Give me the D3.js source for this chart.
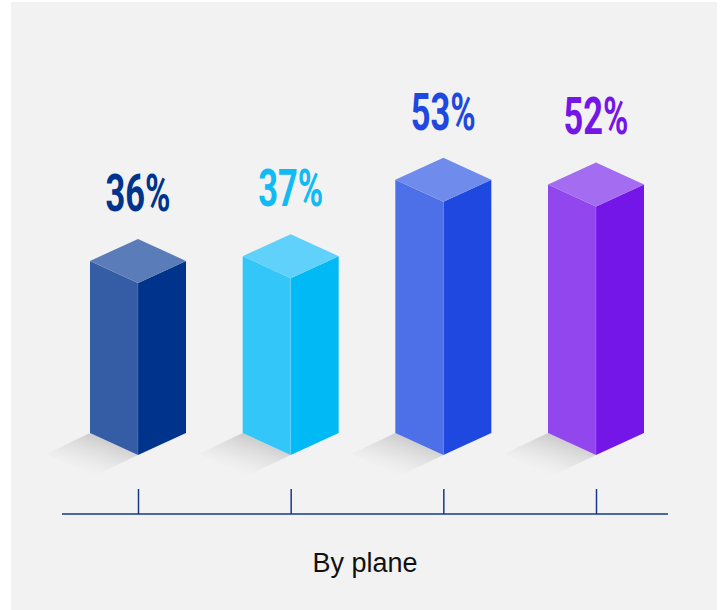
<!DOCTYPE html>
<html>
<head>
<meta charset="utf-8">
<script src="https://cdn.jsdelivr.net/npm/d3@7"></script>
<style>
  html, body { margin: 0; padding: 0; background: #ffffff; }
  svg { display: block; }
</style>
</head>
<body>
<svg id="chart" width="722" height="610"></svg>
<script>
// ---- data ----
const categories = ["Bar 1", "Bar 2", "Bar 3", "Bar 4"];
const values = [36, 37, 53, 52];
const valueLabels = ["36%", "37%", "53%", "52%"];
const axisTitle = "By plane";

// ---- styles ----
const topColors   = ["#5a7cb9", "#5fd1fa", "#6f8bec", "#a46cf0"];
const leftColors  = ["#345da5", "#33c6f8", "#4d6fe8", "#9247ee"];
const rightColors = ["#00338b", "#00b9f5", "#1f48e1", "#7416e8"];
const labelColors = ["#00338b", "#10baf5", "#1f48e1", "#7416e8"];

const svg = d3.select("#chart");

svg.append("rect").attr("x", 11).attr("y", 2).attr("width", 706).attr("height", 608).attr("fill", "#f2f2f2");

const baseY = 455;      // front-bottom vertex
const halfW = 48;       // half width of bar (horizontal)
const dy = 22;          // isometric vertical offset
const axisY = 514;

const x = d3.scalePoint().domain(categories).range([138, 596]);
const h = d3.scaleLinear().domain([0, 100]).range([0, 478]);

const defs = svg.append("defs");
const grad = defs.append("linearGradient").attr("id", "shadowGrad")
  .attr("x1", 0.85).attr("y1", 0.15).attr("x2", 0.3).attr("y2", 0.95);
grad.append("stop").attr("offset", 0).attr("stop-color", "#c4c4c4").attr("stop-opacity", 1);
grad.append("stop").attr("offset", 0.55).attr("stop-color", "#dedede").attr("stop-opacity", 0.6);
grad.append("stop").attr("offset", 1).attr("stop-color", "#f2f2f2").attr("stop-opacity", 0);

const data = categories.map((c, i) => ({ c, v: values[i], i }));

const g = svg.append("g");

// shadows
g.selectAll("path.shadow").data(data).enter().append("path")
  .attr("class", "shadow")
  .attr("fill", "url(#shadowGrad)")
  .attr("d", d => {
    const cx = x(d.c);
    return `M${cx - halfW},${baseY - dy} L${cx},${baseY} L${cx - 44},${baseY + 21} L${cx - 92},${baseY - 1} Z`;
  });

const bars = g.selectAll("g.bar").data(data).enter().append("g").attr("class", "bar");

bars.append("path")
  .attr("fill", d => leftColors[d.i])
  .attr("d", d => {
    const cx = x(d.c), yf = baseY - h(d.v);
    return `M${cx - halfW},${yf - dy} L${cx},${yf} L${cx},${baseY} L${cx - halfW},${baseY - dy} Z`;
  });

bars.append("path")
  .attr("fill", d => rightColors[d.i])
  .attr("d", d => {
    const cx = x(d.c), yf = baseY - h(d.v);
    return `M${cx + halfW},${yf - dy} L${cx},${yf} L${cx},${baseY} L${cx + halfW},${baseY - dy} Z`;
  });

bars.append("path")
  .attr("fill", d => topColors[d.i])
  .attr("d", d => {
    const cx = x(d.c), yf = baseY - h(d.v);
    return `M${cx},${yf} L${cx - halfW},${yf - dy} L${cx},${yf - 2 * dy} L${cx + halfW},${yf - dy} Z`;
  });

// subtle highlight on front edge
bars.append("line")
  .attr("x1", d => x(d.c)).attr("x2", d => x(d.c))
  .attr("y1", d => baseY - h(d.v)).attr("y2", baseY)
  .attr("stroke", "rgba(255,255,255,0.18)").attr("stroke-width", 0.8);

// value labels
bars.append("text")
  .attr("x", d => x(d.c))
  .attr("y", d => baseY - h(d.v) - 2 * dy - 28)
  .attr("text-anchor", "middle")
  .attr("font-family", "Roboto, 'Liberation Sans', sans-serif")
  .attr("font-weight", 700)
  .attr("font-size", 52)
  .attr("textLength", 65)
  .attr("lengthAdjust", "spacingAndGlyphs")
  .attr("fill", d => labelColors[d.i])
  .text(d => valueLabels[d.i]);

// axis
const axis = d3.axisTop(x).tickSize(25).tickSizeOuter(0).tickFormat("");
const axG = svg.append("g").attr("transform", `translate(0,${axisY})`).call(axis);
axG.select(".domain").remove();
axG.selectAll(".tick line").attr("stroke", "#15388c").attr("stroke-width", 1.5);
axG.append("line").attr("x1", 62).attr("x2", 668).attr("y1", 0).attr("y2", 0)
  .attr("stroke", "#15388c").attr("stroke-width", 1.6);

svg.append("text")
  .attr("x", 365).attr("y", 572)
  .attr("text-anchor", "middle")
  .attr("font-family", "'Liberation Sans', Arial, sans-serif")
  .attr("font-size", 27)
  .attr("fill", "#111111")
  .text(axisTitle);
</script>
</body>
</html>
